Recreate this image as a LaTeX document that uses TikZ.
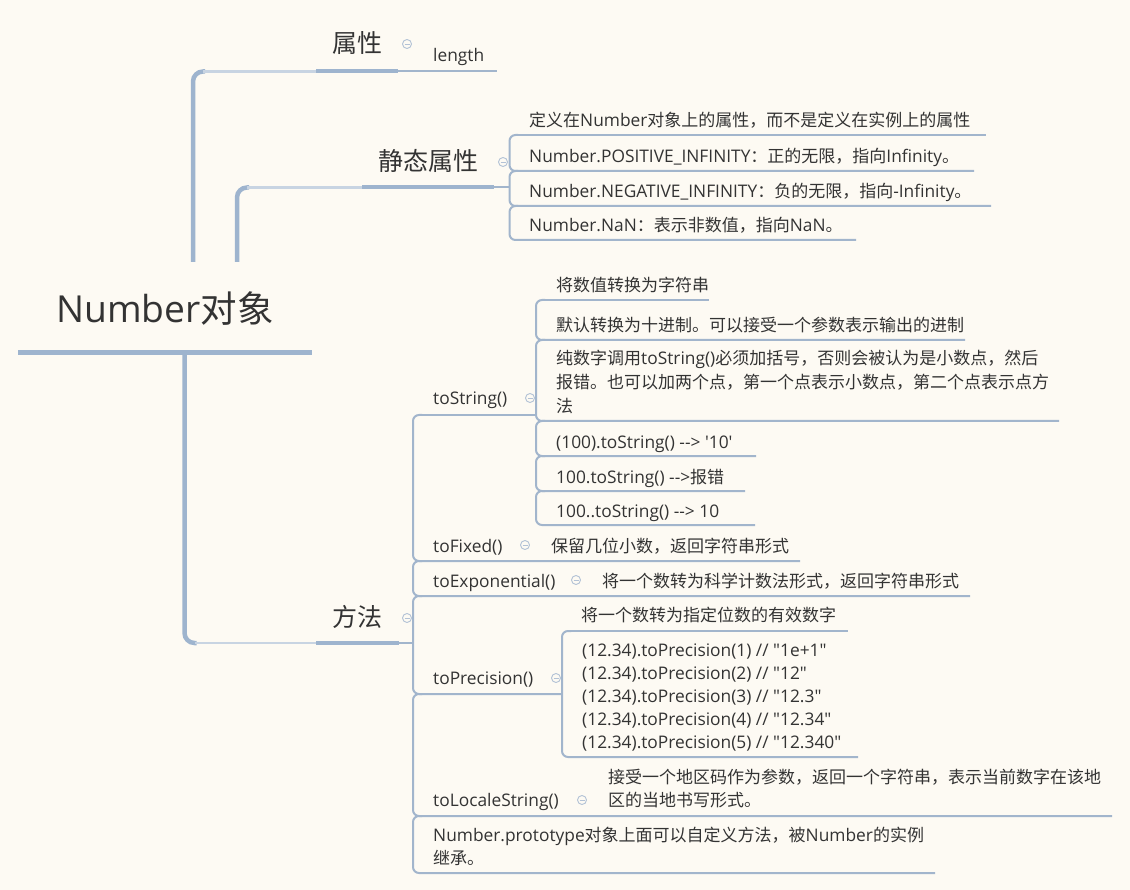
\documentclass[tikz,border=0pt]{standalone}
\usepackage{fontspec}
\newfontfamily\latf{Open Sans}[Scale=1.02]
\newfontfamily\cjkf{Noto Sans CJK SC}
\newcommand\zhx[1]{{\cjkf #1}}
\definecolor{bgc}{HTML}{FDFAF3}
\definecolor{trunkc}{HTML}{9EB4CE}
\definecolor{fadec}{HTML}{C8D4E2}
\definecolor{linec}{HTML}{A2B5CC}
\definecolor{iconc}{HTML}{B3C2D6}
\definecolor{txtc}{HTML}{333333}
\begin{document}
\begin{tikzpicture}[x=1pt,y=-1pt,
  txt/.style={anchor=base west, inner sep=0pt, text=txtc, font=\latf\fontsize{17}{23}\selectfont},
  lvl/.style={txt, font=\latf\fontsize{25}{30}\selectfont},
  rootst/.style={txt, font=\latf\fontsize{36.5}{40}\selectfont},
  trunk/.style={draw=trunkc, line width=4.5pt, rounded corners=10pt},
  fade/.style={draw=fadec, line width=2.2pt},
  bar/.style={draw=trunkc, line width=4pt},
  thin/.style={draw=linec, line width=2pt, rounded corners=6pt},
  icon/.style={circle, draw=iconc, line width=0.9pt, minimum size=9pt, inner sep=0pt, fill=bgc}
]
\fill[bgc] (0,0) rectangle (1130,890);
\useasboundingbox (0,0) rectangle (1130,890);

% ---------- trunk lines ----------
\draw[line width=5pt, draw=trunkc] (18,352.5) coordinate (rl) -- (312,352.5) coordinate (rr);
% upper branch to 属性
\draw[trunk] (193,262) coordinate (u1) -- (193,71.5) -- (205,71.5) coordinate (u1c);
\draw[fade] (203,71.5) -- (316,71.5);
\draw[bar] (316,71.5) coordinate (p1l) -- (398,71.5) coordinate (p1r);
\draw[draw=linec, line width=2pt] (p1r) -- (497,71.5);
% upper branch to 静态属性
\draw[trunk] (237,262) coordinate (u2) -- (237,187.5) -- (249,187.5);
\draw[fade] (247,187.5) -- (362,187.5);
\draw[bar] (362,187.5) coordinate (p2l) -- (494,187.5) coordinate (p2r);
\draw[draw=linec, line width=2pt] (p2r) -- (509.5,187.5);
% lower branch to 方法
\draw[trunk] (184.5,352) -- (184.5,643) -- (196.5,643);
\draw[fade] (194.5,643) -- (316,643);
\draw[bar] (316,643) coordinate (p3l) -- (399,643) coordinate (p3r);
\draw[draw=linec, line width=2pt] (p3r) -- (413,643);

% ---------- 静态属性 bracket ----------
\draw[thin] (515.5,135) -- (986,135);
\draw[thin] (518,135) -- (509.5,135) -- (509.5,171) -- (974,171);
\draw[thin] (518,171) -- (509.5,171) -- (509.5,206) -- (991,206);
\draw[thin] (518,206) -- (509.5,206) -- (509.5,240) -- (856,240);

% ---------- 方法 bracket ----------
\draw[thin] (419,415) -- (536,415);
\draw[thin] (422,415) -- (413,415) -- (413,561) -- (800,561);
\draw[thin] (422,561) -- (413,561) -- (413,596) -- (970,596);
\draw[thin] (422,596) -- (413,596) -- (413,694) -- (562,694);
\draw[thin] (422,694) -- (413,694) -- (413,816) -- (1112,816);
\draw[thin] (422,816) -- (413,816) -- (413,873) -- (935,873);

% ---------- toString bracket ----------
\draw[thin] (542,300) -- (709,300);
\draw[thin] (545,300) -- (536,300) -- (536,340) -- (965,340);
\draw[thin] (545,340) -- (536,340) -- (536,421) -- (1059,421);
\draw[thin] (545,421) -- (536,421) -- (536,456) -- (756,456);
\draw[thin] (545,456) -- (536,456) -- (536,491) -- (745,491);
\draw[thin] (545,491) -- (536,491) -- (536,525) -- (755,525);

% ---------- toPrecision bracket ----------
\draw[thin] (568,631) -- (848,631);
\draw[thin] (571,631) -- (562,631) -- (562,757) -- (858,757);

% ---------- texts ----------
\node[rootst] (root) at (56,323) {Number\zhx{对象}};
\node[lvl] (attr) at (332,53) {\zhx{属性}};
\node[txt] (len) at (433,62) {length};
\node[lvl] (sattr) at (378,171) {\zhx{静态属性}};
\node[txt] (s1) at (529,127) {\zhx{定义在}Number\zhx{对象上的属性，而不是定义在实例上的属性}};
\node[txt] (s2) at (529,163) {Number.POSITIVE\_INFINITY\zhx{：正的无限，指向}Infinity\zhx{。}};
\node[txt] (s3) at (529,198) {Number.NEGATIVE\_INFINITY\zhx{：负的无限，指向}-Infinity\zhx{。}};
\node[txt] (s4) at (529,232) {Number.NaN\zhx{：表示非数值，指向}NaN\zhx{。}};
\node[lvl] (meth) at (332,626) {\zhx{方法}};

\node[txt] (ts) at (433,405) {toString()};
\node[txt] (t1) at (556,292) {\zhx{将数值转换为字符串}};
\node[txt] (t2) at (556,332) {\zhx{默认转换为十进制。可以接受一个参数表示输出的进制}};
\node[txt] (t3a) at (556,365) {\zhx{纯数字调用}toString()\zhx{必须加括号，否则会被认为是小数点，然后}};
\node[txt] (t3b) at (556,389) {\zhx{报错。也可以加两个点，第一个点表示小数点，第二个点表示点方}};
\node[txt] (t3c) at (556,413) {\zhx{法}};
\node[txt] (t4) at (556,448) {(100).toString() --> '10'};
\node[txt] (t5) at (556,483) {100.toString() -->\zhx{报错}};
\node[txt] (t6) at (556,517) {100..toString() --> 10};

\node[txt] (tf) at (433,552) {toFixed()};
\node[txt] (f1) at (551,552) {\zhx{保留几位小数，返回字符串形式}};
\node[txt] (te) at (433,587) {toExponential()};
\node[txt] (e1) at (602,587) {\zhx{将一个数转为科学计数法形式，返回字符串形式}};

\node[txt] (tp) at (433,684) {toPrecision()};
\node[txt] (p1) at (581,621) {\zhx{将一个数转为指定位数的有效数字}};
\node[txt] (p2) at (582,656) {(12.34).toPrecision(1) // "1e+1"};
\node[txt] (p3) at (582,679) {(12.34).toPrecision(2) // "12"};
\node[txt] (p4) at (582,702) {(12.34).toPrecision(3) // "12.3"};
\node[txt] (p5) at (582,725) {(12.34).toPrecision(4) // "12.34"};
\node[txt] (p6) at (582,748) {(12.34).toPrecision(5) // "12.340"};

\node[txt] (tl) at (433,806) {toLocaleString()};
\node[txt] (l1) at (608,783) {\zhx{接受一个地区码作为参数，返回一个字符串，表示当前数字在该地}};
\node[txt] (l2) at (608,806) {\zhx{区的当地书写形式。}};

\node[txt] (np1) at (433,841) {Number.prototype\zhx{对象上面可以自定义方法，被}Number\zhx{的实例}};
\node[txt] (np2) at (433,864) {\zhx{继承。}};

% ---------- collapse icons ----------
\foreach \nm/\px/\py in {i1/407/44, i2/503/162, i3/407/618, i4/530/398, i5/525/545, i6/576/580, i7/556/678, i8/582/800}{
  \node[icon] (\nm) at (\px,\py) {\textcolor{iconc}{\rule[-0.45pt]{5pt}{0.9pt}}};
}
\end{tikzpicture}
\end{document}
